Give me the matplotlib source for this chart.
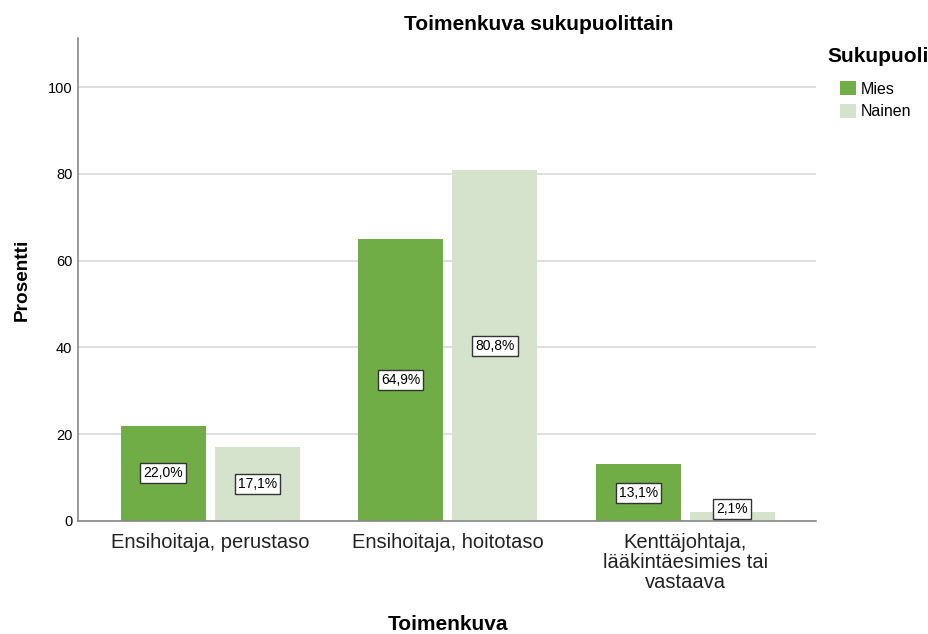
import numpy as np
import matplotlib.pyplot as plt

plt.rcParams['font.family'] = ['Liberation Sans', 'DejaVu Sans']

# data
categories = ["Ensihoitaja, perustaso", "Ensihoitaja, hoitotaso",
              "Kenttäjohtaja,\nlääkintäesimies tai\nvastaava"]
mies = [22.0, 64.9, 13.1]
nainen = [17.1, 80.8, 2.1]
series = ["Mies", "Nainen"]
colors = ["#70ad47", "#d5e3cc"]

fig = plt.figure(figsize=(9.29, 6.34), dpi=100)
ax = fig.add_axes([78/929, 113/634, 738/929, 483/634])

x = np.arange(len(categories))
w = 0.358
off = 0.198
for vals, o, c, name in [(mies, -off, colors[0], series[0]), (nainen, off, colors[1], series[1])]:
    ax.bar(x + o, vals, width=w, color=c, label=name, zorder=2)
    for xi, v in zip(x, vals):
        lbl = f"{v:.1f}%".replace(".", ",")
        ax.text(xi + o, max(v / 2, 2.8), lbl, ha="center", va="center", fontsize=10,
                bbox=dict(boxstyle="square,pad=0.22", fc="white", ec="#333333", lw=1), zorder=3)

ax.set_xlim(-0.556, 2.55)
ax.set_ylim(0, 111.3)
ax.set_yticks([0, 20, 40, 60, 80, 100])
ax.yaxis.grid(True, color="#d9d9d9", lw=1.2, zorder=0)
ax.set_xticks(x)
ax.set_xticklabels(categories, fontsize=14.5, color="#222222", linespacing=1.05)
ax.tick_params(axis="x", length=0, pad=9)
ax.tick_params(axis="y", length=0, labelsize=10.5, pad=4)
for s in ["top", "right"]:
    ax.spines[s].set_visible(False)
for s in ["left", "bottom"]:
    ax.spines[s].set_color("#888888")
    ax.spines[s].set_linewidth(1.2)

ax.set_ylabel("Prosentti", fontsize=13.7, fontweight="bold", labelpad=12)
fig.text(448/929, 1 - 625/634, "Toimenkuva", fontsize=15, fontweight="bold", ha="center", va="center")
fig.text(539/929, 1 - 24/634, "Toimenkuva sukupuolittain", fontsize=15, fontweight="bold", ha="center", va="center")

fig.text(827/929, 1 - 57/634, "Sukupuoli", fontsize=15, fontweight="bold", ha="left", va="center")
leg = ax.legend(loc="upper left", bbox_to_anchor=(826/929, 1 - 67/634), bbox_transform=fig.transFigure,
                frameon=False, fontsize=11.5, handlelength=0.95, handleheight=0.95,
                handletextpad=0.3, labelspacing=0.45)

fig.savefig("out.png", dpi=100)
